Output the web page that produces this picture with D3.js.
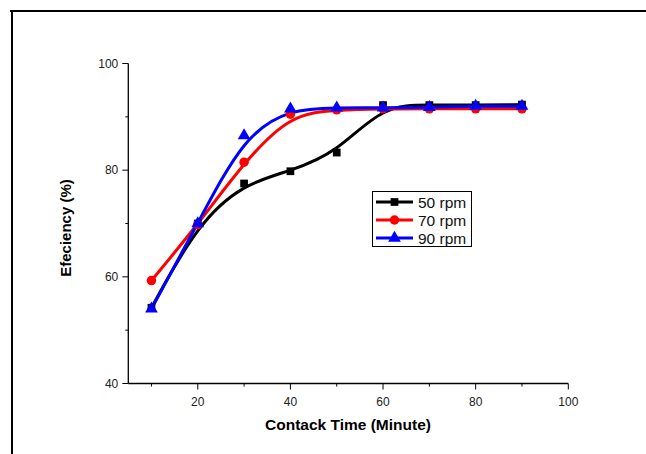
<!DOCTYPE html>
<html>
<head>
<meta charset="utf-8">
<script src="https://cdn.jsdelivr.net/npm/d3@7"></script>
<style>
  body { margin: 0; background: #fff; }
  svg { display: block; font-family: "Liberation Sans", Arial, sans-serif; }
</style>
</head>
<body>
<svg id="chart" width="646" height="454"></svg>
<script>
const times = [10, 20, 30, 40, 50, 60, 70, 80, 90];
const rpm50 = [54.2, 70, 77.5, 79.8, 83.3, 92.2, 92.2, 92.2, 92.3];
const rpm70 = [59.3, 69.8, 81.5, 90.5, 91.3, 91.5, 91.5, 91.5, 91.5];
const rpm90 = [54, 70, 86.5, 91.5, 91.7, 91.7, 91.8, 92, 92];
const seriesNames = ["50 rpm", "70 rpm", "90 rpm"];
const xTicks = [20, 40, 60, 80, 100];
const yTicks = [40, 60, 80, 100];

const series = [
  { name: seriesNames[0], values: rpm50, color: "#000000", symbol: d3.symbolSquare, size: 60 },
  { name: seriesNames[1], values: rpm70, color: "#ff0000", symbol: d3.symbolCircle, size: 70 },
  { name: seriesNames[2], values: rpm90, color: "#0000ff", symbol: d3.symbolTriangle, size: 70 }
];

const svg = d3.select("#chart");
const x = d3.scaleLinear().domain([5, 100]).range([128.3, 568.3]);
const y = d3.scaleLinear().domain([40, 100]).range([383.5, 63.5]);

// outer frame (top and left edges only visible)
svg.append("line").attr("x1", 10).attr("x2", 646).attr("y1", 11).attr("y2", 11)
  .attr("stroke", "#000").attr("stroke-width", 2);
svg.append("line").attr("x1", 12).attr("x2", 12).attr("y1", 10).attr("y2", 454)
  .attr("stroke", "#000").attr("stroke-width", 2);

const axisColor = "#000";

// x axis
const xAxis = svg.append("g").attr("transform", `translate(0,${y(40)})`);
xAxis.append("line").attr("x1", x(5)).attr("x2", x(100)).attr("stroke", axisColor).attr("stroke-width", 1.3);
d3.range(10, 101, 10).forEach((t) => {
  const major = t % 20 === 0;
  xAxis.append("line").attr("x1", x(t)).attr("x2", x(t)).attr("y1", 0).attr("y2", major ? 6 : 3)
    .attr("stroke", axisColor).attr("stroke-width", 1);
});
xAxis.selectAll("text.tick").data(xTicks).join("text")
  .attr("x", (d) => x(d)).attr("y", 22).attr("text-anchor", "middle")
  .attr("font-size", 12).attr("fill", "#222").text((d) => d);

// y axis
const yAxis = svg.append("g").attr("transform", `translate(${x(5)},0)`);
yAxis.append("line").attr("y1", y(40)).attr("y2", y(100)).attr("stroke", axisColor).attr("stroke-width", 1.3);
d3.range(40, 101, 10).forEach((t) => {
  const major = t % 20 === 0;
  yAxis.append("line").attr("y1", y(t)).attr("y2", y(t)).attr("x1", 0).attr("x2", major ? -6 : -3)
    .attr("stroke", axisColor).attr("stroke-width", 1);
});
yAxis.selectAll("text.tick").data(yTicks).join("text")
  .attr("x", -10).attr("y", (d) => y(d) + 4).attr("text-anchor", "end")
  .attr("font-size", 12).attr("fill", "#222").text((d) => d);

// axis titles
svg.append("text").attr("x", 348).attr("y", 430).attr("text-anchor", "middle")
  .attr("font-size", 15.5).attr("font-weight", "bold").text("Contack Time (Minute)");
svg.append("text").attr("transform", `translate(70.5,228) rotate(-90)`).attr("text-anchor", "middle")
  .attr("font-size", 15).attr("font-weight", "bold").text("Efeciency (%)");

// lines
const line = d3.line().x((d) => x(d[0])).y((d) => y(d[1])).curve(d3.curveBasis);
series.forEach((s) => {
  const pts = times.map((t, i) => [t, s.values[i]]);
  svg.append("path").attr("d", line(pts)).attr("fill", "none")
    .attr("stroke", s.color).attr("stroke-width", 3);
});
series.forEach((s) => {
  svg.append("g").selectAll("path").data(times.map((t, i) => [t, s.values[i]])).join("path")
    .attr("d", d3.symbol().type(s.symbol).size(s.size))
    .attr("transform", (d) => `translate(${x(d[0])},${y(d[1])})`)
    .attr("fill", s.color);
});

// legend
const legend = svg.append("g");
legend.append("rect").attr("x", 372.5).attr("y", 191.5).attr("width", 99).attr("height", 55)
  .attr("fill", "#fff").attr("stroke", "#000").attr("stroke-width", 1);
series.forEach((s, i) => {
  const ly = 202 + i * 18;
  legend.append("line").attr("x1", 376).attr("x2", 413).attr("y1", ly).attr("y2", ly)
    .attr("stroke", s.color).attr("stroke-width", 3);
  legend.append("path").attr("d", d3.symbol().type(s.symbol).size(s.size))
    .attr("transform", `translate(394.5,${ly})`).attr("fill", s.color);
  legend.append("text").attr("x", 418).attr("y", ly + 5.5).attr("font-size", 15.5)
    .attr("fill", "#111").text(s.name);
});
</script>
</body>
</html>
